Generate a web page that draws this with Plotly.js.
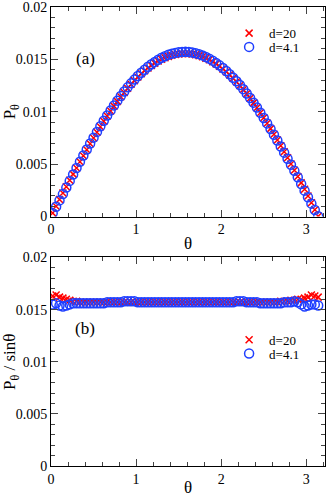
<!DOCTYPE html>
<html>
<head>
<meta charset="utf-8">
<script src="https://cdn.plot.ly/plotly-3.0.1.min.js"></script>
<style>
  html, body { margin: 0; padding: 0; background: #fff; }
  #grafico { width: 326px; height: 497px; }
</style>
</head>
<body>
<div id="grafico"></div>
<script>
// angulos (rad)
const theta = [0.02, 0.06, 0.10, 0.14, 0.18, 0.22, 0.26, 0.30, 0.34, 0.38,
  0.42, 0.46, 0.50, 0.54, 0.58, 0.62, 0.66, 0.70, 0.74, 0.78,
  0.82, 0.86, 0.90, 0.94, 0.98, 1.02, 1.06, 1.10, 1.14, 1.18,
  1.22, 1.26, 1.30, 1.34, 1.38, 1.42, 1.46, 1.50, 1.54, 1.58,
  1.62, 1.66, 1.70, 1.74, 1.78, 1.82, 1.86, 1.90, 1.94, 1.98,
  2.02, 2.06, 2.10, 2.14, 2.18, 2.22, 2.26, 2.30, 2.34, 2.38,
  2.42, 2.46, 2.50, 2.54, 2.58, 2.62, 2.66, 2.70, 2.74, 2.78,
  2.82, 2.86, 2.90, 2.94, 2.98, 3.02, 3.06, 3.10, 3.14];

// painel (a): P_theta
const pA_d20 = [0.00033, 0.00098, 0.00162, 0.00225, 0.00285, 0.00346, 0.00405, 0.00464, 0.00523, 0.00581,
  0.00638, 0.00695, 0.00750, 0.00804, 0.00857, 0.00909, 0.00959, 0.01007, 0.01054, 0.01099,
  0.01143, 0.01184, 0.01224, 0.01262, 0.01297, 0.01331, 0.01362, 0.01391, 0.01418, 0.01442,
  0.01464, 0.01484, 0.01501, 0.01516, 0.01529, 0.01539, 0.01547, 0.01552, 0.01555, 0.01556,
  0.01555, 0.01551, 0.01545, 0.01536, 0.01525, 0.01511, 0.01496, 0.01478, 0.01457, 0.01434,
  0.01409, 0.01382, 0.01352, 0.01320, 0.01287, 0.01250, 0.01212, 0.01172, 0.01129, 0.01085,
  0.01039, 0.00991, 0.00942, 0.00891, 0.00839, 0.00786, 0.00731, 0.00676, 0.00619, 0.00561,
  0.00502, 0.00442, 0.00382, 0.00321, 0.00260, 0.00196, 0.00131, 0.00065, 0.00003];
const pA_d41 = [0.00031, 0.00094, 0.00154, 0.00214, 0.00276, 0.00340, 0.00402, 0.00463, 0.00523, 0.00582,
  0.00640, 0.00697, 0.00753, 0.00808, 0.00861, 0.00914, 0.00965, 0.01013, 0.01061, 0.01106,
  0.01150, 0.01193, 0.01233, 0.01271, 0.01307, 0.01341, 0.01372, 0.01401, 0.01429, 0.01454,
  0.01476, 0.01497, 0.01515, 0.01530, 0.01544, 0.01554, 0.01562, 0.01568, 0.01571, 0.01572,
  0.01570, 0.01566, 0.01559, 0.01550, 0.01538, 0.01523, 0.01507, 0.01488, 0.01466, 0.01443,
  0.01417, 0.01389, 0.01358, 0.01325, 0.01291, 0.01255, 0.01216, 0.01175, 0.01132, 0.01087,
  0.01040, 0.00991, 0.00941, 0.00889, 0.00836, 0.00781, 0.00725, 0.00668, 0.00610, 0.00552,
  0.00495, 0.00436, 0.00375, 0.00310, 0.00247, 0.00184, 0.00123, 0.00062, 0.00002];

// painel (b): P_theta / sin(theta)
const pB_d20 = [0.0163, 0.0164, 0.0162, 0.0161, 0.0160, 0.0159, 0.0158, 0.0158, 0.0157, 0.0157,
  0.0157, 0.0157, 0.0157, 0.0157, 0.0157, 0.0157, 0.0157, 0.0157, 0.0157, 0.0157,
  0.0157, 0.0157, 0.0157, 0.0157, 0.0157, 0.0157, 0.0157, 0.0157, 0.0157, 0.0157,
  0.0157, 0.0157, 0.0157, 0.0157, 0.0157, 0.0157, 0.0157, 0.0157, 0.0157, 0.0157,
  0.0157, 0.0157, 0.0157, 0.0157, 0.0157, 0.0157, 0.0157, 0.0157, 0.0157, 0.0157,
  0.0157, 0.0157, 0.0157, 0.0157, 0.0157, 0.0157, 0.0157, 0.0157, 0.0157, 0.0157,
  0.0157, 0.0157, 0.0157, 0.0157, 0.0157, 0.0157, 0.0157, 0.0158, 0.0158, 0.0158,
  0.0159, 0.0159, 0.0160, 0.0160, 0.0161, 0.0162, 0.0164, 0.0163, 0.0162];
const pB_d41 = [0.0155, 0.0156, 0.0154, 0.0153, 0.0154, 0.0155, 0.0156, 0.0156, 0.0156, 0.0156,
  0.0156, 0.0156, 0.0156, 0.0156, 0.0156, 0.0156, 0.0157, 0.0157, 0.0157, 0.0157,
  0.0157, 0.0158, 0.0158, 0.0158, 0.0158, 0.0157, 0.0157, 0.0157, 0.0157, 0.0157,
  0.0157, 0.0157, 0.0157, 0.0157, 0.0157, 0.0157, 0.0157, 0.0157, 0.0157, 0.0157,
  0.0157, 0.0157, 0.0157, 0.0157, 0.0157, 0.0157, 0.0157, 0.0157, 0.0157, 0.0157,
  0.0157, 0.0157, 0.0157, 0.0157, 0.0158, 0.0158, 0.0158, 0.0157, 0.0157, 0.0157,
  0.0157, 0.0156, 0.0156, 0.0156, 0.0156, 0.0156, 0.0156, 0.0156, 0.0157, 0.0157,
  0.0157, 0.0158, 0.0157, 0.0155, 0.0153, 0.0154, 0.0155, 0.0155, 0.0154];

const yTicks = [0, 0.005, 0.01, 0.015, 0.02];
const yTickText = ['0', '0.005', '0.01', '0.015', '0.02'];

const serif = 'Liberation Serif';
const cross = { symbol: 'x-thin', size: 7, line: { color: '#ff0000', width: 1.5 } };
const circ = { symbol: 'circle-open', size: 9, color: '#1f3fff', line: { color: '#1f3fff', width: 1.5 } };

const data = [
  { x: theta, y: pA_d20, type: 'scatter', mode: 'markers', name: 'd=20', marker: cross, xaxis: 'x', yaxis: 'y', legend: 'legend' },
  { x: theta, y: pA_d41, type: 'scatter', mode: 'markers', name: 'd=4.1', marker: circ, xaxis: 'x', yaxis: 'y', legend: 'legend2' },
  { x: theta, y: pB_d20, type: 'scatter', mode: 'markers', name: 'd=20', marker: cross, xaxis: 'x2', yaxis: 'y2', legend: 'legend3' },
  { x: theta, y: pB_d41, type: 'scatter', mode: 'markers', name: 'd=4.1', marker: circ, xaxis: 'x2', yaxis: 'y2', legend: 'legend4' }
];

function eixoX(anchor, standoff) {
  return {
    anchor: anchor, domain: [0, 1], range: [0, 3.22], dtick: 1, tick0: 0,
    ticks: 'inside', ticklen: 7, tickwidth: 1, mirror: 'allticks',
    showline: true, linecolor: '#000', linewidth: 1, showgrid: false, zeroline: false,
    minor: { dtick: 0.2, ticks: 'inside', ticklen: 4 },
    tickfont: { family: serif, size: 14, color: '#000' },
    title: { text: 'θ', font: { family: serif, size: 17, color: '#000' }, standoff: standoff }
  };
}
function eixoY(anchor, dom, titulo) {
  return {
    anchor: anchor, domain: dom, range: [0, 0.02], tickvals: yTicks, ticktext: yTickText,
    ticks: 'inside', ticklen: 7, tickwidth: 1, mirror: 'allticks',
    showline: true, linecolor: '#000', linewidth: 1, showgrid: false, zeroline: false,
    minor: { dtick: 0.001, ticks: 'inside', ticklen: 4 },
    ticklabeloverflow: 'allow',
    tickfont: { family: serif, size: 14, color: '#000' },
    title: { text: titulo, font: { family: serif, size: 17, color: '#000' }, standoff: 4 }
  };
}

const leg = (y) => ({
  x: 0.65, y: y, xanchor: 'left', yanchor: 'middle', bgcolor: 'rgba(0,0,0,0)',
  font: { family: serif, size: 13, color: '#000' }, itemwidth: 30
});

const layout = {
  width: 326, height: 497,
  margin: { l: 51, r: 1, t: 7, b: 31 },
  showlegend: true,
  xaxis: eixoX('y', 0),
  yaxis: eixoY('x', [0.5435, 1], 'P<sub>θ</sub>'),
  xaxis2: eixoX('y2', 4),
  yaxis2: eixoY('x2', [0, 0.4543], 'P<sub>θ</sub> / sinθ'),
  legend: leg(0.943),
  legend2: leg(0.913),
  legend3: leg(0.275),
  legend4: leg(0.245),
  annotations: [
    { text: '(a)', xref: 'x', yref: 'y', x: 0.4, y: 0.0151, showarrow: false, font: { family: serif, size: 17, color: '#000' } },
    { text: '(b)', xref: 'x2', yref: 'y2', x: 0.4, y: 0.0132, showarrow: false, font: { family: serif, size: 17, color: '#000' } }
  ],
  plot_bgcolor: '#fff', paper_bgcolor: '#fff'
};

Plotly.newPlot('grafico', data, layout, { displayModeBar: false });
</script>
</body>
</html>
